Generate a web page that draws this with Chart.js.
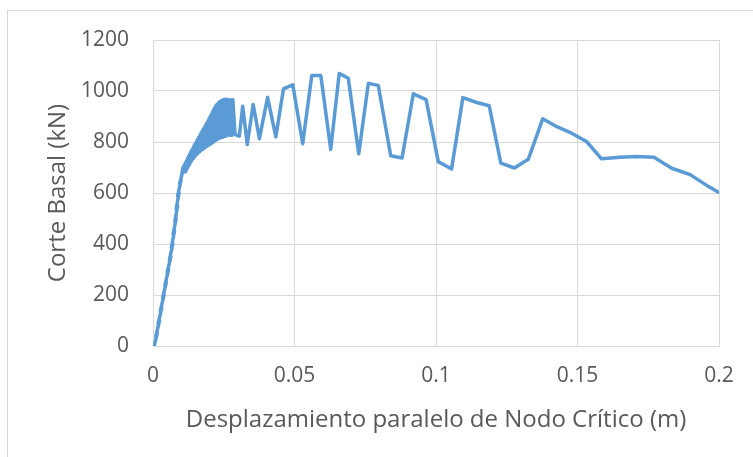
<!DOCTYPE html>
<html>
<head>
<meta charset="utf-8">
<script src="https://cdn.jsdelivr.net/npm/chart.js@4/dist/chart.umd.min.js"></script>
<style>
html,body{margin:0;padding:0;background:#fff;}
#wrap{position:relative;width:753px;height:457px;}
</style>
</head>
<body>
<div id="wrap"><canvas id="c" width="753" height="457"></canvas></div>
<script>
// Displacement (m)
const xValues = [
  0.0004,
  0.0015, 0.0010, 0.0023, 0.0018, 0.0031, 0.0026, 0.0039, 0.0034, 0.0047, 0.0042,
  0.0055, 0.0050, 0.0063, 0.0058, 0.0070, 0.0065, 0.0076, 0.0071, 0.0082, 0.0077,
  0.0087, 0.0082, 0.0092, 0.0087, 0.0099, 0.0094, 0.0104, 0.0100,
  0.0106, 0.0114, 0.0110, 0.0118, 0.0114, 0.0122, 0.0118, 0.0126, 0.0122, 0.0130,
  0.0126, 0.0134, 0.0130, 0.0138, 0.0134, 0.0142, 0.0138, 0.0146, 0.0142, 0.0150,
  0.0146, 0.0154, 0.0150, 0.0158, 0.0154, 0.0162, 0.0158, 0.0166, 0.0162, 0.0170,
  0.0166, 0.0174, 0.0170, 0.0178, 0.0174, 0.0182, 0.0178, 0.0186, 0.0182, 0.0190,
  0.0186, 0.0194, 0.0190, 0.0198, 0.0194, 0.0202, 0.0198, 0.0206, 0.0202, 0.0210,
  0.0206, 0.0214, 0.0210, 0.0218, 0.0214, 0.0222, 0.0218, 0.0226, 0.0222, 0.0230,
  0.0226, 0.0234, 0.0230, 0.0238, 0.0234, 0.0242, 0.0238, 0.0246, 0.0242, 0.0250,
  0.0246, 0.0254, 0.0250, 0.0258, 0.0254, 0.0262, 0.0258, 0.0266, 0.0262, 0.0270,
  0.0266, 0.0274, 0.0270, 0.0278, 0.0274,
  0.0282, 0.0290, 0.0305, 0.0317, 0.0333, 0.0354, 0.0376, 0.0405, 0.0434, 0.0461,
  0.0494, 0.0529, 0.0561, 0.0593, 0.0628, 0.0658, 0.0690, 0.0727, 0.0761, 0.0796,
  0.0840, 0.0880, 0.0920, 0.0965, 0.1008, 0.1055, 0.1095, 0.1144, 0.1188, 0.1229,
  0.1277, 0.1326, 0.1377, 0.1427, 0.1473, 0.1532, 0.1585, 0.1650, 0.1709, 0.1770,
  0.1833, 0.1898, 0.1962, 0.2000
];
// Base shear (kN)
const yValues = [
  0,
  50, 38, 100, 88, 150, 138, 200, 188, 250, 238,
  300, 288, 350, 338, 400, 388, 450, 438, 500, 488,
  550, 538, 600, 588, 650, 636, 680, 664,
  700, 683, 709, 690, 718, 698, 726, 706, 735, 714,
  744, 722, 753, 729, 762, 735, 770, 741, 778, 746,
  787, 751, 795, 755, 803, 759, 811, 763, 819, 767,
  827, 770, 835, 773, 843, 777, 851, 780, 858, 783,
  866, 786, 874, 789, 882, 791, 891, 794, 900, 797,
  909, 800, 918, 804, 926, 807, 934, 810, 942, 813,
  947, 815, 952, 817, 957, 818, 960, 819, 963, 821,
  965, 822, 967, 824, 968, 826, 968, 828, 967, 827,
  966, 826, 965, 826, 965,
  966, 829, 823, 940, 790, 947, 813, 975, 820, 1008,
  1024, 793, 1061, 1061, 771, 1069, 1050, 754, 1030, 1022,
  746, 737, 989, 966, 723, 694, 974, 955, 942, 717,
  698, 732, 891, 860, 838, 802, 734, 740, 743, 740,
  697, 672, 626, 602
];
const xTicks = [0, 0.05, 0.1, 0.15, 0.2];
const xTickLabels = ['0', '0.05', '0.1', '0.15', '0.2'];
const yTicks = [0, 200, 400, 600, 800, 1000, 1200];
const yTickLabels = ['0', '200', '400', '600', '800', '1000', '1200'];
const xTitle = 'Desplazamiento paralelo de Nodo Crítico (m)';
const yTitle = 'Corte Basal (kN)';

const points = xValues.map((x, i) => ({x: x, y: yValues[i]}));
const FONT = '"Open Sans", "Noto Sans", sans-serif';
const TXT = '#595959';
const GRID = '#D9D9D9';

const frame = {
  id: 'frame',
  beforeDraw(chart) {
    const ctx = chart.ctx;
    ctx.save();
    ctx.fillStyle = '#fff';
    ctx.fillRect(0, 0, chart.width, chart.height);
    ctx.strokeStyle = GRID;
    ctx.lineWidth = 1;
    ctx.strokeRect(7.5, 10.5, 800, 500);
    ctx.restore();
  }
};

new Chart(document.getElementById('c'), {
  type: 'scatter',
  data: {
    datasets: [{
      data: points,
      showLine: true,
      borderColor: '#5B9BD5',
      backgroundColor: '#5B9BD5',
      borderWidth: 3.5,
      borderJoinStyle: 'round',
      borderCapStyle: 'round',
      pointRadius: 0,
      tension: 0,
      fill: false
    }]
  },
  options: {
    responsive: false,
    animation: false,
    devicePixelRatio: 1,
    layout: {padding: {left: 0, top: 40, right: 34, bottom: 0}},
    plugins: {legend: {display: false}, tooltip: {enabled: false}},
    scales: {
      x: {
        type: 'linear', min: 0, max: 0.2,
        afterBuildTicks: s => { s.ticks = xTicks.map(v => ({value: v})); },
        afterFit: s => { s.height = 111; },
        grid: {color: GRID, lineWidth: 1, drawTicks: false},
        border: {color: GRID, width: 1},
        ticks: {
          padding: 17, color: TXT, font: {family: FONT, size: 21},
          maxRotation: 0, autoSkip: false,
          callback: (v) => { const i = xTicks.findIndex(t => Math.abs(t - v) < 1e-9); return i >= 0 ? xTickLabels[i] : ''; }
        },
        title: {display: true, text: xTitle, color: TXT, font: {family: FONT, size: 24}, padding: {top: 0, bottom: 22}}
      },
      y: {
        type: 'linear', min: 0, max: 1200,
        afterBuildTicks: s => { s.ticks = yTicks.map(v => ({value: v})); },
        afterFit: s => { s.width = 153; },
        grid: {color: GRID, lineWidth: 1, drawTicks: false},
        border: {color: GRID, width: 1},
        ticks: {
          padding: 24, color: TXT, font: {family: FONT, size: 21},
          autoSkip: false,
          callback: (v) => { const i = yTicks.indexOf(v); return i >= 0 ? yTickLabels[i] : ''; }
        },
        title: {display: true, text: yTitle, color: TXT, font: {family: FONT, size: 24}, padding: {top: 44, bottom: 0}}
      }
    }
  },
  plugins: [frame]
});
</script>
</body>
</html>
